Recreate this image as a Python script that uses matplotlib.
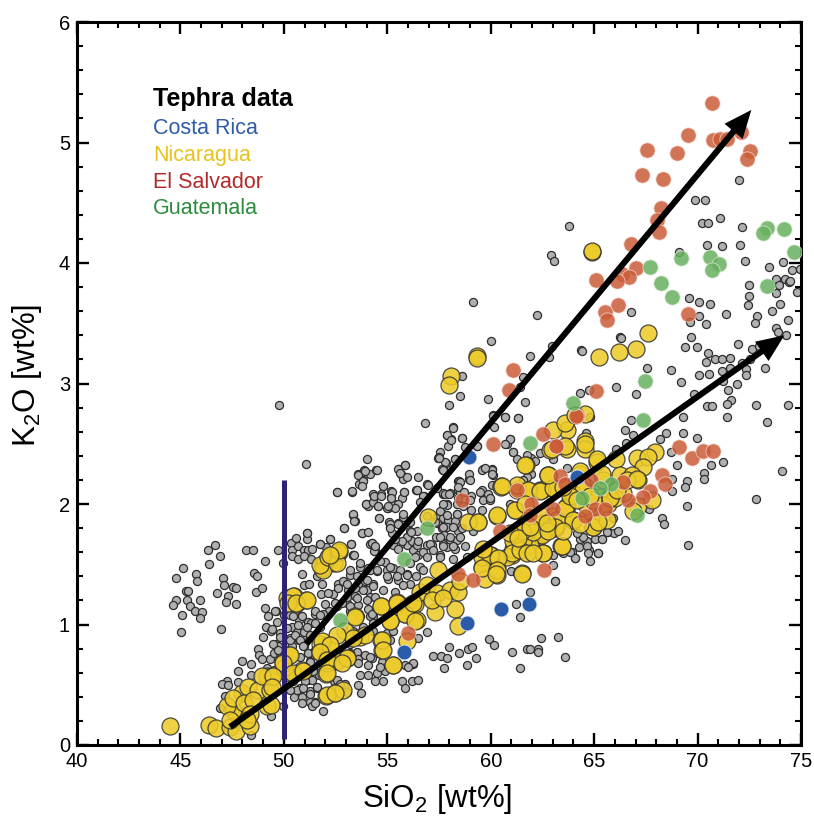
import matplotlib
matplotlib.use("Agg")
import matplotlib.pyplot as plt
from matplotlib.ticker import MultipleLocator

plt.rcParams['font.family'] = ['Liberation Sans', 'DejaVu Sans']
plt.rcParams['mathtext.default'] = 'regular'

# (SiO2, K2O) background compilation, read by region
gray_low_si = [(45.13,1.47),(44.81,1.39),(45.76,1.42),(45.82,1.36),(45.26,1.28),(45.35,1.28),(45.32,1.20),(44.81,1.20),(44.66,1.16),(45.44,1.15),(45.97,1.20),(45.69,1.11),(46.05,1.10),(45.94,1.05),(45.10,1.08),(45.05,0.94),(46.32,1.62),(46.66,1.66),(46.89,1.57),(46.40,1.50),(47.05,1.39),(47.10,1.33),(46.76,1.26),(47.29,1.24),(47.19,1.19),(47.56,1.31),(47.68,1.30),(47.71,1.17),(46.95,0.96),(48.18,1.62),(48.53,1.62),(49.10,1.53),(48.55,1.43),(48.71,1.40),(48.65,1.27),(48.92,1.30),(49.71,1.62),(49.98,1.51),(49.76,2.82),(51.08,2.33)]
gray_50_53 = [(50.34,1.68),(50.60,1.72),(51.13,1.76),(51.13,1.71),(50.4,1.62),(50.69,1.65),(50.4,1.57),(50.95,1.62),(51.16,1.62),(51.35,1.63),(50.69,1.54),(50.95,1.57),(51.31,1.54),(51.76,1.67),(52.02,1.64),(52.21,1.71),(50.9,1.42),(50.95,1.33),(51.21,1.34),(51.6,1.40),(51.84,1.34),(51.8,1.25),(52.37,1.25),(49.11,1.14),(49.24,1.07),(49.6,1.11),(49.69,1.02),(50,1.08),(50.3,1.08),(49.13,0.98),(49.4,0.95),(49.0,0.90),(49.82,0.93),(49.6,0.84),(49.7,0.82),(48.74,0.80),(48.79,0.75),(47.98,0.70),(48.4,0.67),(47.8,0.61),(48.4,0.58),(47.24,0.53),(47.0,0.51),(47.29,0.50),(47.77,0.52),(47.16,0.41),(46.9,0.31),(49.39,0.24),(48.4,0.08),(49.95,0.32),(51.9,0.28),(50.39,0.98),(50.85,1.07),(50.71,1.04),(51.15,1.02),(51.31,1.01),(51.76,0.98),(51.52,1.09),(52.0,1.17),(52.2,1.11),(52.56,1.15),(50.63,0.94),(50.87,0.90),(50.71,0.87),(50.31,0.89),(50.15,0.84),(50.39,0.82),(50.95,0.94),(51.27,0.91),(50.95,0.82),(51.15,0.76),(51.52,0.79),(51.27,0.70),(51.68,0.66),(51.24,0.61),(51.19,0.54),(51.68,0.58),(50.44,0.53),(50.79,0.47),(50.47,0.40),(50.87,0.40),(51.27,0.45),(51.6,0.47),(51.52,0.36),(51.27,0.36),(51.35,0.32),(52.4,0.53),(52.6,0.51),(49.34,0.71),(48.94,0.71),(49.5,0.76),(49.82,0.76),(49.18,0.64),(49.5,0.62)]
gray_dense_a = [(52.63,1.34),(52.87,1.36),(53.2,1.41),(52.63,1.30),(53.12,1.29),(53.6,1.34),(53.92,1.36),(53.44,1.24),(54.0,1.29),(54.32,1.34),(54.49,1.44),(54.89,1.52),(54.97,1.45),(55.29,1.47),(55.05,1.38),(55.53,1.37),(55.94,1.42),(56.1,1.34),(54.08,1.47),(54.16,1.67),(54.41,1.62),(55.45,1.66),(56.26,1.62),(55.94,1.66),(53.68,1.48),(53.36,1.58),(51.5,1.11),(51.9,1.09),(52.47,1.18),(52.15,1.26),(53.04,1.18),(53.6,1.16),(54.16,1.23),(54.32,1.07),(50.86,1.07),(50.46,1.07),(50.7,1.0),(51.1,0.98),(51.5,1.01),(49.57,1.11),(49.41,0.96),(50.14,0.97),(49.81,0.9),(49.49,0.84),(49.73,0.79),(50.3,0.87),(50.54,0.91),(50.78,0.87),(50.94,0.82),(51.18,0.76),(50.78,0.73),(51.26,0.69),(51.67,0.66),(51.42,0.61),(51.34,0.54),(51.02,0.53),(52.55,0.54),(52.95,0.51),(53.2,0.84),(53.52,0.77),(53.6,0.71),(53.92,0.75),(54.24,0.72),(54.08,0.66),(54.73,0.69),(53.68,0.58),(54.08,0.58),(54.49,0.6),(54.89,0.61),(54.81,0.53),(54.4,0.53),(53.6,0.5),(53.71,0.43),(55.69,0.53),(55.86,0.47),(56.18,0.53),(56.5,0.54),(55.86,0.66),(56.26,0.67),(50.86,0.35),(51.5,0.35),(51.26,0.42),(50.62,0.46),(50.3,0.46),(50.94,0.47),(51.58,0.48),(53.04,0.44),(52.71,0.51),(53.2,0.76),(54.16,1.07),(54.08,1.13),(53.2,1.11),(54.97,0.93),(55.29,0.95),(55.13,0.87),(54.32,0.95),(51.75,1.08)]
gray_dense_b = [(52.55,2.1),(53.28,2.1),(54.81,2.15),(54.36,2.07),(55.82,2.1),(54.29,2.02),(53.95,2.0),(54.08,1.98),(55.03,1.97),(55.34,2.0),(53.36,1.91),(53.42,1.86),(54.6,1.88),(52.91,1.8),(53.78,1.76),(51.13,1.76),(51.75,1.67),(52.23,1.71),(53.23,1.67),(54.24,1.68),(54.36,1.61),(53.36,1.58),(56.42,2.12),(56.77,2.07),(57.71,2.28),(57.47,2.38),(57.82,2.34),(57.68,2.28),(58.43,2.19),(58.43,2.12),(57.71,2.08),(57.9,2.0),(58.38,2.0),(57.71,1.92),(57.42,1.89),(57.71,1.88),(57.95,1.87),(58.35,1.92),(58.27,1.86),(57.14,1.85),(57.38,1.84),(57.87,1.81),(57.63,1.8),(58.43,1.78),(57.74,1.74),(57.35,1.73),(58.03,1.7),(58.38,1.7),(57.71,1.67),(57.14,1.66),(57.87,1.64),(58.27,1.63),(57.55,1.58),(56.9,1.66),(56.42,1.78),(56.1,1.78),(55.77,1.89),(55.53,1.84),(55.1,1.85),(55.13,1.81),(55.21,1.76),(55.94,1.73),(56.18,1.69),(55.61,1.67),(55.29,1.66),(56.42,1.66),(56.5,1.58)]
gray_53_60 = [(58.0,2.82),(56.83,2.675),(58.2,2.64),(57.9,2.57),(58.62,2.55),(58.06,2.54),(57.95,2.48),(58.75,2.47),(59.35,2.48),(57.54,2.43),(57.48,2.39),(57.8,2.35),(57.64,2.29),(58.28,2.37),(54.0,2.37),(53.89,2.28),(54.16,2.25),(54.45,2.28),(53.6,2.25),(53.84,2.2),(53.64,2.17),(53.29,2.11),(55.56,2.29),(55.85,2.32),(55.64,2.25),(55.77,2.21),(55.93,2.22),(56.5,2.22),(54.8,2.15),(54.32,2.08),(54.69,2.08),(55.2,2.11),(56.4,2.12),(56.93,2.17),(55.16,2.06),(55.69,2.05),(55.53,2.0),(55.37,1.97),(55.0,1.97),(53.97,2.0),(54.32,2.02),(54.53,1.98),(53.35,1.92),(53.39,1.86),(54.61,1.88),(52.9,1.8),(53.76,1.76),(54.08,1.77),(55.13,1.83),(55.77,1.92),(55.13,1.80),(55.53,1.83),(56.09,1.85),(55.93,1.73),(55.69,1.69),(55.37,1.71),(55.53,1.63),(56.5,1.69),(56.17,1.77),(54.27,1.68),(54.4,1.65),(53.27,1.67),(53.39,1.58),(58.48,2.19),(58.96,2.21),(57.7,2.09),(58.03,2.09),(58.51,2.10),(59.56,2.12),(59.07,2.07),(58.43,2.05),(59.64,2.29),(60.04,2.29),(60.09,2.24),(60.77,2.50),(60.93,2.54),(60.12,2.74),(60.68,2.72),(61.33,2.71),(61.06,2.43),(62.38,2.42),(61.97,2.38),(57.9,1.99),(57.54,1.94),(57.87,1.91),(58.35,1.92),(59.07,1.95),(58.67,1.98),(59.64,2.03),(59.96,2.03),(59.56,1.95),(56.9,1.9),(57.3,1.85),(57.7,1.81),(58.19,1.81),(58.59,1.8),(58.51,1.73),(58.03,1.73),(57.54,1.73),(57.06,1.67),(56.74,1.6),(57.22,1.62),(57.7,1.65),(58.19,1.65),(58.75,1.65),(59.15,1.78),(56.33,1.56),(56.9,1.56),(57.54,1.56),(58.19,1.54),(58.83,1.56),(56.58,1.48),(56.09,1.51),(55.61,1.45),(55.13,1.48),(54.64,1.53),(54.16,1.45),(53.68,1.51),(53.19,1.45),(53.52,1.40),(54.0,1.37),(54.48,1.45),(54.97,1.40),(55.45,1.40),(55.93,1.41),(56.41,1.40),(56.74,1.45),(53.03,1.34),(53.43,1.30),(53.84,1.29),(54.32,1.32),(54.8,1.29),(55.37,1.27),(55.77,1.33),(53.03,1.23),(53.52,1.22),(54.0,1.2),(54.4,1.23),(52.79,1.18),(53.19,1.15),(54.24,1.09),(54.32,1.01),(53.84,0.98),(53.35,0.95),(52.87,0.98),(53.68,1.07),(56.9,0.94),(56.5,0.89)]
gray_lower = [(58.0,0.81),(58.88,0.80),(59.09,0.81),(58.48,0.76),(59.93,0.88),(60.14,0.83),(61.02,0.77),(61.73,0.80),(61.9,0.80),(62.3,0.80),(62.3,0.77),(62.42,0.89),(63.25,0.90),(63.58,0.73),(59.27,0.72),(58.83,0.66),(61.41,0.64),(57.2,0.74),(57.6,0.74),(57.87,0.72),(57.75,0.64),(54.16,0.73),(54.64,0.65),(53.6,0.68),(53.27,0.73),(56.25,0.68),(56.0,0.65),(61.2,1.17),(61.89,1.27),(61.41,1.06),(63.12,1.36),(61.0,1.44),(61.25,1.43),(65.68,1.77),(65.96,1.76),(66.17,1.78),(66.47,1.7),(65.38,1.71),(65.02,1.71),(64.64,1.69),(64.31,1.71),(64.47,1.73),(64.15,1.76),(64.28,1.64),(63.91,1.6),(63.51,1.59),(64.07,1.55),(64.8,1.53),(65.2,1.59),(64.76,1.62),(64.64,1.65),(63.02,1.49),(63.1,1.36),(63.02,1.58),(65.92,1.88),(67.66,1.96),(64.6,2.59),(64.8,2.72),(62.99,2.37),(63.67,2.3),(64.31,2.92),(64.76,2.95),(65.64,1.77),(65.36,1.71),(64.72,1.59),(65.17,1.59),(64.09,1.55),(63.83,1.6)]
gray_high_k = [(72.0,4.69),(69.89,4.52),(70.34,4.52),(70.21,4.33),(70.52,4.33),(71.08,4.37),(72.13,4.30),(63.78,4.31),(62.9,4.07),(63.07,4.02),(69.08,4.09),(70.45,4.15),(71.16,4.14),(72.03,4.15),(72.3,4.02),(73.45,3.97),(74.12,4.01),(74.56,3.94),(73.79,3.87),(74.21,3.87),(74.43,3.84),(73.92,3.82),(72.51,3.82),(72.47,3.73),(73.79,3.75),(74.0,3.66),(72.45,3.65),(73.61,3.6),(72.88,3.56),(72.77,3.5),(74.37,3.53),(73.79,3.46),(73.88,3.43),(74.27,3.4),(74.8,3.76),(69.58,3.71),(70.06,3.68),(70.6,3.66),(70.05,3.56),(69.61,3.51),(70.42,3.49),(71.39,3.58),(66.79,3.59),(66.26,3.39),(69.66,3.39),(69.39,3.3),(69.98,3.3),(71.95,3.33),(72.61,3.29),(72.98,3.31),(64.38,3.28),(62.94,3.31),(74.95,3.95),(74.46,3.85)]
gray_right = [(66.28,3.38),(64.39,3.27),(62.83,3.22),(70.52,3.25),(70.84,3.2),(71.16,3.2),(71.58,3.21),(70.42,3.18),(70.55,3.08),(70.05,3.07),(71.16,3.1),(71.56,3.13),(72.13,3.17),(72.53,3.2),(73.27,3.13),(72.34,3.12),(72.32,3.07),(68.73,3.11),(67.57,3.13),(69.19,3.01),(71.24,3.02),(71.92,3.0),(71.48,2.95),(69.84,2.91),(67.02,2.91),(66.04,2.97),(70.44,2.81),(70.71,2.81),(71.6,2.86),(71.4,2.83),(72.82,2.82),(74.35,2.82),(69.31,2.72),(71.42,2.72),(73.38,2.68),(66.78,2.70),(66.47,2.61),(66.86,2.57),(68.45,2.59),(69.28,2.59),(68.18,2.54),(69.98,2.55),(68.7,2.43),(71.21,2.35),(70.63,2.32),(69.0,2.32),(70.31,2.26),(70.31,2.21),(74.08,2.27),(69.5,2.19),(69.37,2.14),(68.74,2.21),(68.74,2.11),(72.82,2.04),(69.49,1.98),(68.26,1.88),(68.36,1.83),(69.52,1.66),(66.54,2.51),(66.05,2.46)]
gray_upper = [(59.14,3.68),(62.25,3.57),(60.0,3.35),(61.9,3.23),(58.61,3.06),(58.53,2.90),(59.87,2.87),(61.54,3.05),(61.41,2.97),(61.67,2.85),(58.2,2.63),(60.09,2.73),(60.7,2.72),(61.31,2.71),(60.14,2.64),(57.9,2.57),(58.08,2.53),(58.61,2.55),(59.33,2.48),(60.94,2.54),(60.7,2.5),(57.5,2.38),(58.29,2.37),(57.67,2.28),(61.07,2.43),(61.25,2.37),(61.73,2.41),(62.14,2.36),(53.58,2.24),(53.9,2.27),(54.48,2.28),(53.84,2.19),(53.78,2.15),(52.55,2.10),(54.37,2.07),(54.68,2.07),(55.21,2.1),(55.18,2.05),(55.8,2.1),(55.53,2.29),(55.84,2.32),(55.61,2.26),(55.05,1.98),(54.56,1.98),(56.42,2.12),(56.95,2.16),(56.74,2.07),(56.58,2.02),(57.79,2.08),(58.0,2.08),(57.7,2.0),(57.4,2.13),(58.95,2.25),(58.99,2.2),(58.51,2.18),(58.43,2.14),(58.7,2.1),(59.6,2.28),(60.04,2.28),(60.04,2.25),(59.72,2.3),(59.48,2.1),(59.85,2.08),(60.07,2.16),(59.96,2.05),(58.99,2.03),(61.93,2.25),(61.73,2.22),(61.57,2.2),(60.93,2.0),(61.49,2.14)]

# tephra series
costa_rica = [(58.96,2.39),(64.15,2.22),(60.51,1.13),(61.83,1.17),(58.86,1.01),(55.8,0.77)]
nicaragua = [(44.5,0.16),(46.39,0.17),(46.71,0.14),(47.4,0.15),(47.68,0.12),(48.37,0.16),(47.73,0.26),(47.56,0.29),(47.24,0.32),(47.97,0.43),(47.56,0.39),(48.29,0.48),(48.77,0.46),(49.34,0.46),(49.18,0.57),(49.42,0.57),(48.94,0.57),(48.05,0.35),(48.53,0.37),(49.18,0.32),(48.37,0.26),(47.4,0.21),(48.2,0.21),(49.98,0.69),(50.23,0.75),(50.39,0.59),(50.87,0.62),(50.02,0.64),(50.15,1.22),(50.5,1.24),(50.6,1.17),(51.08,1.2),(51.84,1.47),(52.11,1.55),(52.4,1.51),(52.0,1.52),(52.65,1.6),(51.76,0.84),(52.24,0.83),(51.76,0.77),(52.08,0.72),(52.05,0.59),(52.08,0.68),(52.56,0.7),(52.05,0.41),(52.48,0.43),(52.87,0.46),(53.43,1.07),(54.68,1.15),(55.48,1.19),(55.93,1.15),(56.33,1.17),(55.13,1.03),(55.85,1.09),(56.45,1.04),(57.3,1.1),(58.27,1.13),(58.43,0.99),(54.69,0.87),(54.76,0.79),(55.29,0.66),(53.03,0.72),(52.95,0.95),(53.68,0.9),(55.93,0.86),(56.58,1.27),(56.93,1.33),(57.38,1.26),(58.03,1.29),(58.43,1.27),(57.46,1.45),(57.14,1.2),(57.7,1.22),(58.51,1.36),(59.56,1.48),(60.28,1.41),(59.72,1.38),(60.28,1.48),(60.01,1.58),(59.56,1.56),(61.01,1.58),(61.49,1.43),(60.77,1.56),(61.41,1.67),(61.89,1.67),(62.54,1.59),(63.42,1.65),(61.09,1.63),(62.38,1.74),(63.18,1.81),(63.99,1.87),(64.95,1.81),(63.02,1.9),(63.67,1.98),(61.41,1.76),(61.97,1.76),(62.54,1.84),(61.65,1.84),(61.17,1.95),(60.28,1.9),(59.4,1.85),(58.91,1.85),(60.52,2.15),(61.7,2.32),(62.75,2.24),(61.81,2.12),(62.38,2.12),(63.02,2.13),(61.25,2.12),(64.0,2.1),(64.95,1.91),(64.31,2.25),(65.12,2.35),(65.44,2.2),(63.67,2.46),(63.67,2.61),(63.02,2.61),(63.58,2.67),(62.86,2.45),(64.55,2.52),(64.55,2.46),(64.55,2.75),(56.95,1.89),(65.68,2.0),(64.63,2.14),(67.62,3.42),(67.02,3.29),(66.21,3.26),(65.25,3.22),(64.55,2.5),(63.59,2.48),(62.94,2.46),(64.07,2.74),(65.15,2.37),(66.05,2.37),(67.05,2.38),(67.94,2.43),(67.62,2.39),(67.37,2.31),(64.31,2.27),(62.78,2.24),(65.36,2.25),(66.25,2.24),(66.81,2.24),(67.13,2.2),(63.02,2.13),(63.67,2.14),(64.39,2.17),(63.91,2.09),(64.8,2.07),(65.28,2.06),(65.76,2.06),(66.41,2.09),(66.0,2.05),(67.13,1.98),(67.78,2.03),(66.89,1.94),(63.11,1.8),(63.99,1.87),(64.96,1.81),(63.43,1.65),(62.54,1.76),(62.54,1.59),(62.46,2.12),(63.59,1.96),(65.04,1.83),(63.19,1.87),(62.7,1.81),(59.32,3.23),(59.32,3.21),(58.08,3.06),(57.98,2.99),(61.65,2.32),(60.52,2.14),(61.25,2.16),(64.88,4.09),(64.88,4.1)]
nicaragua_extra = [(51.9,1.45),(51.75,1.49),(52.15,1.56),(52.63,1.6),(52.55,1.51),(50.46,1.24),(50.2,1.18),(50.6,1.18),(51.1,1.2),(53.44,1.06),(54.69,1.15),(55.45,1.18),(55.86,1.09),(56.34,1.03),(55.13,1.03),(56.26,1.18),(54.73,0.87),(54.81,0.79),(55.29,0.66),(53.92,0.91),(53.36,0.885),(52.55,0.91),(51.83,0.86),(52.23,0.83),(51.75,0.775),(52.07,0.705),(53.04,0.72),(52.79,0.68),(52.07,0.595),(52.07,0.415),(52.47,0.43),(50.3,0.75),(49.97,0.68),(50.46,0.595),(50.94,0.61),(49.49,0.57),(49.41,0.48),(49.4,0.33),(52.68,1.62),(52.23,1.58),(60.53,2.15),(60.29,1.91),(59.4,1.85),(61.82,2.12),(62.38,2.11),(63.03,2.13),(62.79,2.24),(63.59,1.97),(61.17,1.95),(61.66,2.0),(62.38,1.91),(63.11,1.81),(63.99,1.87),(64.96,1.81),(62.46,1.74),(61.9,1.66),(61.09,1.69),(61.01,1.59),(61.58,1.69),(62.54,1.59),(63.43,1.65),(62.06,1.77),(61.5,1.78),(59.97,1.58),(60.37,1.55),(59.64,1.63),(59.56,1.47),(60.29,1.45),(60.26,1.42),(61.5,1.42),(61.42,1.62),(61.74,1.59),(62.06,1.59),(60.93,1.76),(61.34,1.72),(61.9,1.81),(62.79,1.78),(62.7,1.84),(63.51,1.78),(64.32,1.83),(64.64,1.98),(65.44,1.99),(65.77,2.05),(66.09,2.12),(66.57,2.2),(67.06,2.21),(64.96,2.03),(65.6,1.87),(65.2,1.85),(64.48,2.12),(64.8,2.07),(63.83,2.07),(63.51,2.14),(64.16,2.03)]
el_salvador = [(70.69,5.33),(69.53,5.06),(67.55,4.94),(69.02,4.91),(67.29,4.73),(68.34,4.70),(70.76,5.02),(71.08,5.03),(71.4,5.03),(72.09,5.09),(72.53,4.93),(72.37,4.86),(68.23,4.46),(68.05,4.36),(68.15,4.26),(66.76,4.16),(67.02,3.96),(66.33,3.91),(66.7,3.88),(66.12,3.85),(65.1,3.86),(66.13,3.65),(65.52,3.59),(65.6,3.53),(69.55,3.58),(60.12,2.50),(62.54,2.58),(64.15,2.73),(63.15,2.48),(58.62,2.03),(61.25,2.12),(63.34,2.23),(63.58,2.17),(64.87,2.2),(61.94,2.0),(60.44,1.78),(61.89,1.91),(62.99,1.96),(65.03,1.96),(65.52,1.96),(64.55,1.9),(58.4,1.42),(59.15,1.37),(62.57,1.45),(56,0.93),(61.07,3.11),(60.9,2.95),(65.09,2.94),(64.12,2.73),(63.14,2.48),(69.12,2.47),(69.73,2.38),(70.27,2.44),(70.76,2.44),(66.41,2.18),(68.26,2.24),(68.42,2.17),(67.7,2.11),(67.37,2.06),(66.65,2.03)]
guatemala = [(73.34,4.29),(73.14,4.25),(74.19,4.28),(74.67,4.09),(69.21,4.04),(70.6,4.05),(71.03,3.99),(70.68,3.94),(67.71,3.97),(68.24,3.83),(68.78,3.72),(73.34,3.81),(67.46,3.02),(67.37,2.70),(63.96,2.84),(65.8,2.17),(65.28,2.13),(64.39,2.05),(67.08,1.91),(61.92,2.51),(56.93,1.8),(55.8,1.54),(52.7,1.04)]

groups = [
    (gray_low_si + gray_50_53 + gray_dense_a + gray_dense_b + gray_53_60 + gray_lower + gray_high_k + gray_right + gray_upper,
     34, '#b0b0b0', '#2e2e2e', 1.0, 0.9, 2),
    (nicaragua + nicaragua_extra, 150, '#eccb2a', '#333333', 0.88, 0.9, 3),
    (el_salvador, 120, '#cb5c38', '#f3d8cf', 0.85, 0.6, 4),
    (guatemala, 120, '#67b05f', '#d8ecd5', 0.85, 0.6, 4),
    (costa_rica, 115, '#2a5ba8', '#dfe7f3', 1.0, 0.6, 5),
]

legend_names = ['Costa Rica', 'Nicaragua', 'El Salvador', 'Guatemala']
legend_colors = ['#2f5ca8', '#e6c31f', '#b32a2a', '#2c8c3c']
legend_y = [129, 156, 183, 209]
xticks = [40, 45, 50, 55, 60, 65, 70, 75]
yticks = [0, 1, 2, 3, 4, 5, 6]
basalt_x = [50, 50]
basalt_y = [0.05, 2.2]
trend_high = [(51.1, 0.84), (72.6, 5.27)]
trend_low = [(47.4, 0.15), (74.2, 3.40)]

W, H = 814, 816
fig = plt.figure(figsize=(W/100, H/100), dpi=100, facecolor='white')
ax = fig.add_axes([77/W, 1-745/H, 724/W, 723/H])
for pts, s, fc, ec, a, lw, z in groups:
    ax.scatter([p[0] for p in pts], [p[1] for p in pts], s=s, c=fc, edgecolors=ec,
               alpha=a, linewidths=lw, zorder=z, clip_on=True)
ax.plot(basalt_x, basalt_y, color='#2e2372', lw=3.6, solid_capstyle='butt', zorder=6)
for (a, b) in (trend_high, trend_low):
    ax.annotate('', xy=b, xytext=a, zorder=7,
                arrowprops=dict(width=4.4, headwidth=17, headlength=20,
                                facecolor='black', edgecolor='none', shrink=0))

ax.set_xlim(40, 75)
ax.set_ylim(0, 6)
ax.set_xticks(xticks)
ax.set_yticks(yticks)
ax.xaxis.set_minor_locator(MultipleLocator(1))
ax.yaxis.set_minor_locator(MultipleLocator(0.2))
ax.tick_params(which='major', direction='in', length=8.6, width=1.7, top=True, right=True, labelsize=14.5, pad=5)
ax.tick_params(which='minor', direction='in', length=4.3, width=1.5, top=True, right=True)
for sp in ax.spines.values():
    sp.set_linewidth(2.2)

fig.text(437/W, 1-799/H, 'SiO$_2$ [wt%]', fontsize=22.5, ha='center', va='center')
fig.text(27/W, 1-375/H, 'K$_2$O [wt%]', fontsize=22.5, ha='center', va='center', rotation=90)
fig.text(153/W, 1-99/H, 'Tephra data', fontsize=18, fontweight='bold', va='center')
for n, c, y in zip(legend_names, legend_colors, legend_y):
    fig.text(153/W, 1-y/H, n, fontsize=15.5, color=c, va='center')
fig.savefig('out.png', dpi=100)
